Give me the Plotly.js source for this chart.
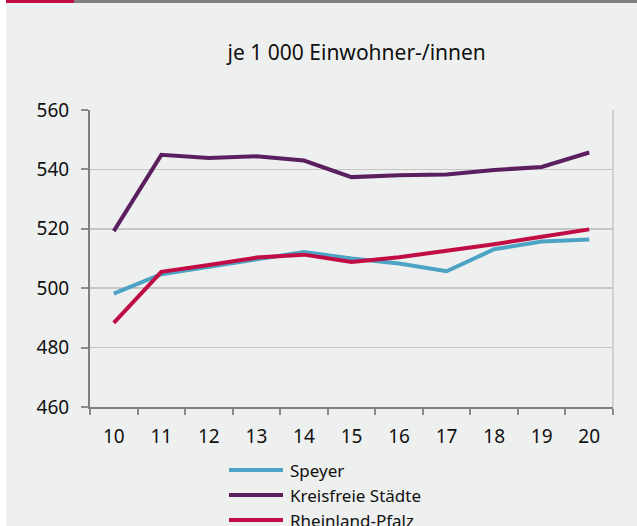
<!DOCTYPE html>
<html>
<head>
<meta charset="utf-8">
<script src="https://cdn.plot.ly/plotly-3.0.1.min.js"></script>
<style>
html,body{margin:0;padding:0;background:#ffffff;width:637px;height:526px;overflow:hidden;}
#wrap{position:absolute;left:6px;top:0;width:631px;height:526px;background:#eef0ef;overflow:hidden;}
#barRed{position:absolute;left:6px;top:0;width:68px;height:3px;background:#c20d44;z-index:5;}
#barGray{position:absolute;left:74px;top:0;width:563px;height:3px;background:#808080;z-index:5;}
#chart{position:absolute;left:0;top:0;width:631px;height:526px;}
</style>
</head>
<body>
<div id="wrap"><div id="chart"></div></div>
<div id="barRed"></div><div id="barGray"></div>
<script>
const years = ['10','11','12','13','14','15','16','17','18','19','20'];
const speyer = [498.2, 504.7, 507.2, 509.6, 512.2, 510.0, 508.3, 505.7, 513.1, 515.7, 516.4];
const kreisfreie = [519.2, 544.9, 543.8, 544.4, 543.0, 537.4, 538.0, 538.3, 539.8, 540.8, 545.7];
const rlp = [488.3, 505.5, 507.8, 510.3, 511.3, 508.8, 510.4, 512.5, 514.8, 517.3, 519.8];
const seriesNames = ['Speyer', 'Kreisfreie Städte', 'Rheinland-Pfalz'];
const seriesColors = ['#4ca3c4', '#5b1f60', '#c20d44'];
const titleText = 'je 1 000 Einwohner-/innen';
const yTicks = [460, 480, 500, 520, 540, 560];

const FONT = 'Noto Sans, sans-serif';
const data = [speyer, kreisfreie, rlp].map((vals, i) => ({
  type: 'scatter', mode: 'lines', x: years, y: vals, name: seriesNames[i],
  line: {color: seriesColors[i], width: 4}
}));

const layout = {
  width: 631, height: 526,
  paper_bgcolor: '#eef0ef', plot_bgcolor: '#eef0ef',
  margin: {l: 84, r: 24, t: 109.5, b: 119, pad: 0},
  font: {family: FONT, size: 17, color: '#111'},
  title: {text: titleText, font: {family: FONT, size: 21, color: '#111'}, x: 0.51, xanchor: 'center', xref: 'paper', y: 0.9, yref: 'container', yanchor: 'middle'},
  showlegend: true,
  legend: {orientation: 'v', x: 0.26, xanchor: 'left', xref: 'paper', y: 0.14, yanchor: 'top', yref: 'container', bgcolor: 'rgba(0,0,0,0)', font: {family: FONT, size: 17, color: '#111'}, itemwidth: 54, tracegroupgap: 0},
  xaxis: {type: 'category', range: [-0.5, 10.5], tickson: 'boundaries', ticks: 'outside', ticklen: 6, tickwidth: 2, tickcolor: '#8a8a8a', showline: true, linecolor: '#7f7f7f', linewidth: 2, showgrid: false, zeroline: false, tickfont: {family: FONT, size: 19, color: '#111'}, ticklabelstandoff: 11, fixedrange: true},
  yaxis: {range: [460, 560], tickvals: yTicks, ticks: 'outside', ticklen: 7, tickwidth: 2, tickcolor: '#8a8a8a', showline: true, linecolor: '#7f7f7f', linewidth: 2, showgrid: true, gridcolor: '#c6c6c6', gridwidth: 1.5, zeroline: false, tickfont: {family: FONT, size: 19, color: '#111'}, ticklabelstandoff: 8, fixedrange: true},
  shapes: [{type: 'line', xref: 'paper', yref: 'paper', x0: 1, x1: 1, y0: 0, y1: 1, line: {color: '#c6c6c6', width: 1.5}}]
};
Plotly.newPlot('chart', data, layout, {displayModeBar: false, staticPlot: true}).then(gd => {
  gd.querySelectorAll('.legendlines path').forEach(p => p.setAttribute('d', 'M3,0h54'));
});
</script>
</body>
</html>
